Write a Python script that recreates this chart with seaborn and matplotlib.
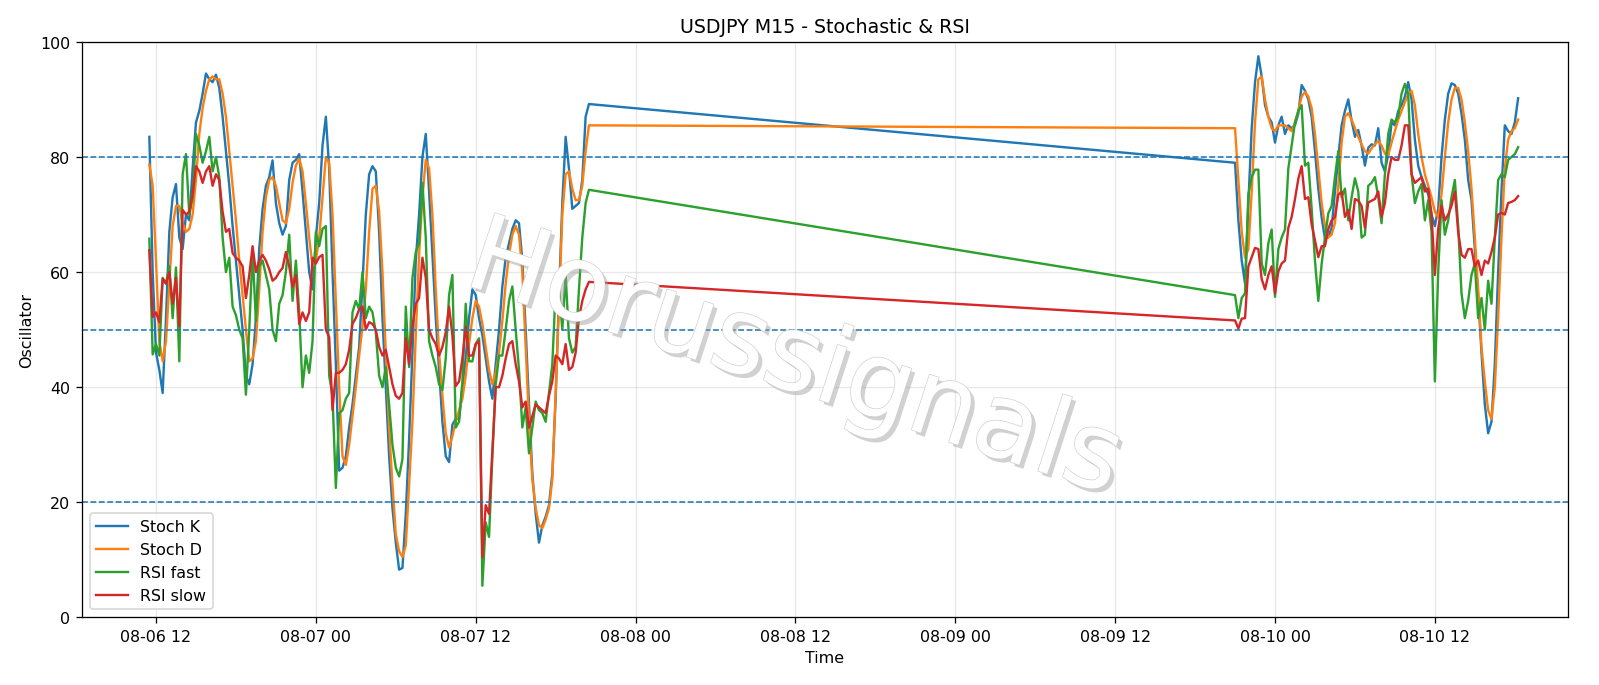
import pandas as pd
import numpy as np
import matplotlib
matplotlib.use("Agg")
import matplotlib.pyplot as plt
import matplotlib.dates as mdates
import matplotlib.patheffects as pe
import seaborn as sns


# prepare data (M15 bars, two sessions separated by the weekend gap)
start_1 = "2025-08-06 11:30"
start_2 = "2025-08-09 21:00"

stoch_k_1 = [83.5, 60, 46, 43, 39, 52, 67, 73, 75.3, 66, 64, 70, 69, 78, 86, 88, 91, 94.5, 93.5, 93,
             94.3, 92, 87, 81, 75, 68, 62, 56, 50, 42, 40.5, 44, 52, 64, 71, 75, 76.5, 79.4, 72, 68.5,
             66.5, 68, 76, 79, 79.5, 80.5, 74, 67, 60, 57, 66, 72, 82, 87, 78, 60, 44, 25.5, 26, 28,
             33, 37, 42, 47, 58, 70, 77, 78.4, 77.5, 67, 52, 40, 28, 19, 13, 8.3, 8.6, 18, 31, 46,
             62, 70, 80, 84, 74, 63, 52, 43, 34, 28, 27, 33.5, 34.5, 34.5, 40, 45, 52, 57, 56, 52,
             49, 45, 41, 38, 44, 50, 57.5, 62.5, 65, 67.5, 69, 68.5, 62, 50, 37, 25, 18, 13, 16, 17.5,
             19.5, 25, 38, 56, 72, 83.5, 78, 71, 71.5, 72, 76, 87, 89.2]
stoch_d_1 = [78.7, 75, 62, 48, 44.5, 48, 58, 68, 71.5, 71.5, 68.5, 67, 67.5, 70, 76, 84, 88.5, 91.5, 93.5, 94,
             93.5, 93.5, 91, 87, 81, 75, 69, 62, 56, 50, 44.5, 45, 48, 57, 67, 73, 76, 76.5, 75, 72,
             69, 68.5, 71, 75.5, 78.5, 79.7, 77.5, 72, 66, 61, 62, 66, 73, 80, 79, 70, 55, 40, 28, 26.5,
             30, 35, 40, 45.5, 50.5, 57, 67, 74.5, 75, 70.5, 60, 46, 33, 23, 14.5, 11.5, 10.5, 12.5, 23, 34,
             49, 63, 73, 79.5, 78, 70, 57, 46, 38.5, 32, 29.5, 31.5, 34, 36, 38, 42, 47.5, 52, 55, 54,
             51, 47, 43, 40.5, 42.5, 46, 51.5, 58, 63, 66.5, 68, 66.5, 60, 47, 34, 24, 19, 16, 15.5, 17,
             19, 24, 39, 54, 70, 77, 77.5, 74.5, 72.5, 72.5, 75, 81, 85.5]
rsi_fast_1 = [65.8, 45.7, 47.5, 45.5, 59, 58, 61, 52, 60.8, 44.5, 77, 80.5, 70, 73, 84, 82, 79, 81, 83.5, 77.5,
              80, 76.5, 66, 60, 62.5, 54, 52.5, 50, 48.5, 38.7, 50, 63.5, 51.5, 61, 62, 59.5, 57, 50, 48, 54.5,
              56, 60, 66.5, 55, 62, 53, 40, 45.5, 42.5, 48, 67, 64.5, 67.5, 68, 42, 38.5, 22.5, 35.5, 36, 38,
              39, 53, 55, 53.5, 60, 52, 54, 53, 49.5, 42, 40, 43.5, 37, 30, 26, 24.5, 27.5, 54, 43.5, 59,
              63.5, 65, 75.5, 66, 48, 45.5, 43.5, 40.5, 39.5, 45, 56, 59.5, 33, 34, 41, 54.5, 44.5, 44.5, 47.5, 48.5,
              5.5, 16.5, 14, 28, 40.5, 45.5, 45.5, 50, 55, 57.5, 50, 43, 33, 36.5, 28.5, 33, 37.5, 36, 35.5, 34,
              39, 44, 57, 57, 50, 59.5, 48.5, 46, 47, 57, 66, 72, 74.3]
rsi_slow_1 = [63.8, 52.2, 53, 51.3, 58.8, 58, 60, 54.5, 59, 50.6, 70.8, 70, 70.5, 73.5, 78.4, 77.5, 75.5, 77.5, 78.4, 75,
              77, 76, 70.5, 67, 67.5, 63.3, 62.5, 62, 61, 55.5, 59.5, 64.5, 60, 62, 63, 62, 60.5, 58.5, 59, 60,
              60.7, 63.5, 61, 57.5, 59.5, 51, 53, 51.5, 53, 62.5, 61.5, 62.6, 63, 50, 48.7, 36, 42.5, 42.5, 43, 44,
              46.5, 51, 52, 53.5, 54, 50, 51.3, 51, 50, 47, 45.5, 46.5, 43.5, 40.5, 38.5, 38, 39, 48.5, 44, 50.5,
              54.5, 55.5, 62.5, 59, 50, 48.5, 47.5, 45.5, 47, 49.5, 54, 49, 40.2, 41, 45, 50.5, 45.5, 45.5, 47.5, 48,
              10.5, 19.5, 18, 29, 40, 40, 42, 45, 47.5, 48, 44, 41, 36.5, 37.5, 33, 35, 37, 36.5, 36, 35.5,
              38.5, 41, 45.5, 45, 44, 47.5, 43, 43.5, 46, 52, 55, 57, 58.3]

stoch_k_2 = [79, 69, 62, 58, 72, 85, 93, 97.5, 94, 89, 87, 86, 82.5, 85.5, 87, 84, 85.5, 85, 85.5, 87.5,
             92.5, 91.5, 90, 87, 81, 74.5, 69.5, 65.8, 66.1, 67.7, 74, 80, 85.5, 88, 90, 86.3, 83.5, 84.7, 82, 78.5,
             81.6, 82.2, 82, 85, 79, 77.5, 80.5, 86, 85.5, 88, 89, 90.5, 93, 90, 83, 78.5, 76.5, 75, 73.5, 70,
             68, 71, 80, 86.5, 91, 92.8, 92.5, 91, 87.5, 83, 76, 72.5, 64, 56, 46, 37, 32, 34, 44, 60,
             74, 85.5, 84.5, 84, 86, 90.2]
stoch_d_2 = [85, 76, 67, 62.5, 64, 74, 86, 93.5, 94, 90, 87, 85, 84.5, 85.5, 85.5, 85.5, 85, 84.5, 86, 88,
             90.5, 91.3, 90.5, 88.5, 84, 78, 72, 68, 66, 66.5, 68.5, 75, 82.5, 87, 87.6, 86.5, 85, 83.5, 82.2, 81,
             80.6, 81.5, 82.2, 82.8, 82, 80.6, 80.3, 82.5, 84.5, 86.5, 88, 89.5, 91, 91.5, 89, 84, 80, 77, 75, 73,
             70.5, 69.5, 73.5, 80, 86, 90, 92, 92, 90, 86, 81, 74.5, 66, 57, 47, 41, 36, 34.5, 40, 52,
             66, 78, 83, 84.5, 85, 86.5]
rsi_fast_2 = [56, 52, 55.5, 56.3, 73.5, 76.5, 77.8, 77.8, 61.5, 59.5, 65, 67.4, 55.7, 64, 66, 67.4, 78, 82, 86, 88,
              89, 78.5, 79, 71, 62, 55, 61.4, 66, 70.2, 71.5, 76.5, 81, 73, 74.5, 69, 73, 76.3, 74, 66, 66.5,
              75, 75.5, 76.5, 73, 68.5, 77, 84, 86.5, 86, 87, 91, 92.7, 91, 77, 72, 74, 75.3, 69, 72.5, 67,
              41, 60, 72.5, 66.5, 69, 73, 76, 68, 56.3, 52, 55, 59.5, 61.5, 52, 55.5, 50, 58.5, 54.5, 66, 76,
              77, 76.5, 79.5, 80, 80.5, 81.7]
rsi_slow_2 = [51.6, 50.2, 51.9, 52, 61, 62.6, 64.2, 64, 58.8, 57, 59.5, 61, 56.3, 60.1, 61.5, 62, 67.7, 69.6, 72.7, 76.2,
              78.4, 72.7, 73, 68.3, 65.5, 62.6, 64.5, 64.5, 67.5, 69, 69.6, 73.4, 74, 69.6, 70.8, 67.5, 72.7, 72.4, 71.5, 67.7,
              72.1, 72.4, 72.7, 74, 69.6, 72, 77, 80, 79.5, 79.5, 82, 85.5, 85.5, 77, 75.5, 76, 76.5, 74, 74.5, 70,
              59.5, 67.5, 71.5, 69, 70, 71.5, 74, 67, 63, 62.5, 64, 64, 61, 62, 59.5, 62, 61.5, 63.5, 66, 70,
              70.3, 70, 72, 72.2, 72.5, 73.2]

labels = ["Stoch K", "Stoch D", "RSI fast", "RSI slow"]
colors = ["#1f77b4", "#ff7f0e", "#2ca02c", "#d62728"]
levels = [80, 50, 20]

t1 = pd.date_range(start_1, periods=len(stoch_k_1), freq="15min")
t2 = pd.date_range(start_2, periods=len(stoch_k_2), freq="15min")
df = pd.DataFrame({
    "time": t1.append(t2),
    "Stoch K": stoch_k_1 + stoch_k_2,
    "Stoch D": stoch_d_1 + stoch_d_2,
    "RSI fast": rsi_fast_1 + rsi_fast_2,
    "RSI slow": rsi_slow_1 + rsi_slow_2,
})

fig, ax = plt.subplots(figsize=(14, 6.0025), dpi=114.2857)
fig.subplots_adjust(left=0.051, right=0.9803, top=0.9375, bottom=0.0985)

for name, c in zip(labels, colors):
    sns.lineplot(data=df, x="time", y=name, ax=ax, color=c, label=name, linewidth=1.5)

for lv in levels:
    ax.axhline(lv, color="#1f77b4", linestyle="--", linewidth=1)

ax.set_ylim(0, 100)
t0 = pd.Timestamp("2025-08-06 12:00")
ax.set_xlim(t0 - pd.Timedelta(hours=5.585), t0 + pd.Timedelta(hours=106.03))
ax.xaxis.set_major_locator(mdates.HourLocator(byhour=[0, 12]))
ax.xaxis.set_major_formatter(mdates.DateFormatter("%m-%d %H"))
ax.grid(True, alpha=0.3)
ax.set_title("USDJPY M15 - Stochastic & RSI")
ax.set_xlabel("Time")
ax.set_ylabel("Oscillator")
ax.legend(loc="lower left")

# watermark
ax.text(0.4795, 0.445, "Horussignals", transform=ax.transAxes, fontsize=67,
        rotation=-18, rotation_mode="anchor", ha="center", va="center",
        color="white", alpha=0.95, zorder=5,
        path_effects=[pe.withSimplePatchShadow(offset=(2.5, -2.5), shadow_rgbFace=(0.6, 0.6, 0.6), alpha=0.45),
                      pe.withStroke(linewidth=0.8, foreground=(0.8, 0.8, 0.8))])

fig.savefig("out.png", dpi=114.2857)
